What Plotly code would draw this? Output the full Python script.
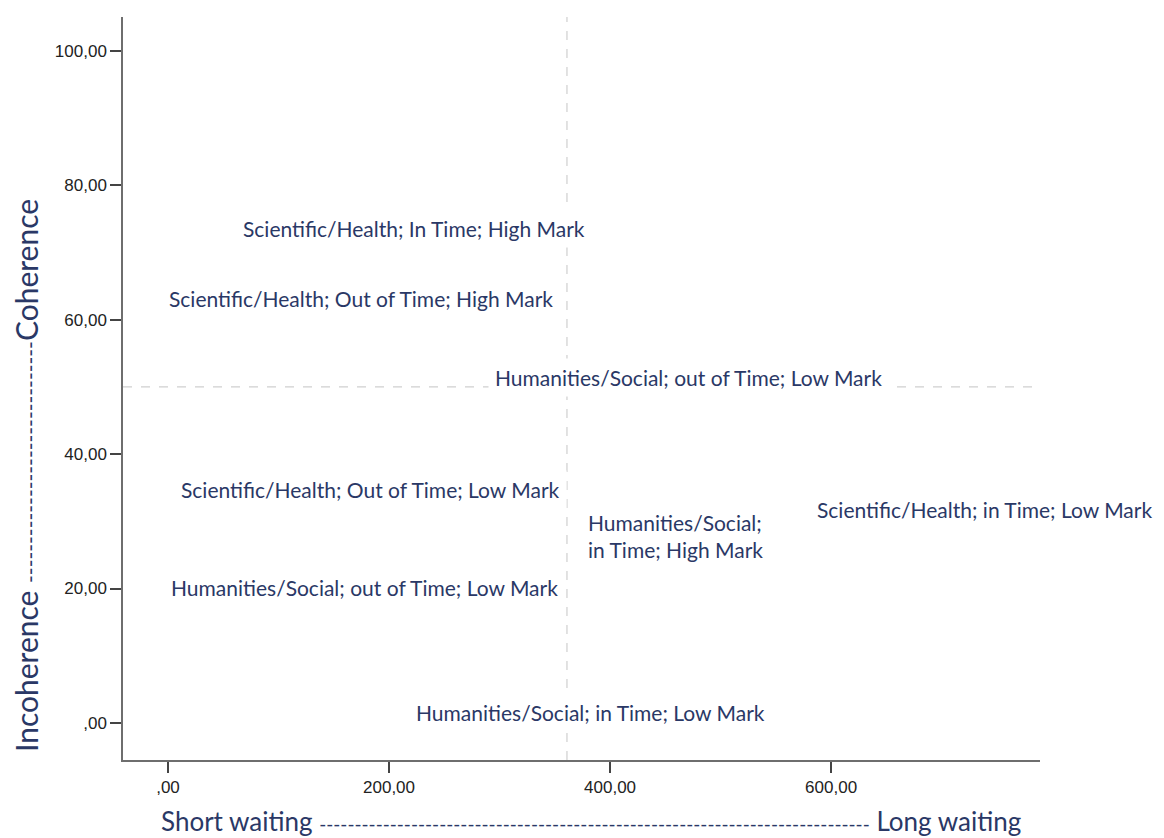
import plotly.graph_objects as go

# ---- data ----
label_text = [
    "Scientific/Health; In Time; High Mark",
    "Scientific/Health; Out of Time; High Mark",
    "Humanities/Social; out of Time; Low Mark",
    "Scientific/Health; Out of Time; Low Mark",
    "Humanities/Social;<br>in Time; High Mark",
    "Scientific/Health; in Time; Low Mark",
    "Humanities/Social; out of Time; Low Mark",
    "Humanities/Social; in Time; Low Mark",
]
label_x = [222.6, 174.7, 470.6, 182.8, 459.0, 739.0, 178.0, 382.0]
label_y = [73.5, 63.2, 51.4, 34.8, 27.8, 31.7, 20.2, 1.5]

x_ticks = [0, 200, 400, 600]
x_ticklabels = [",00", "200,00", "400,00", "600,00"]
y_ticks = [0, 20, 40, 60, 80, 100]
y_ticklabels = [",00", "20,00", "40,00", "60,00", "80,00", "100,00"]

ref_x = 361
ref_y = 50

x_range = [-40.7, 789]
y_range = [-5.5, 105]

x_title = ("Short waiting <span style='font-size:19px'>" + "-" * 78 +
           "</span> Long waiting")
y_title = ("Incoherence <span style='font-size:21px'>" + "-" * 31 +
           "</span>Coherence")

navy = "#2a3866"
gray_axis = "#6e6e6e"
dash_col = "#cfcfcf"

fig = go.Figure()

# invisible scatter to set up axes
fig.add_trace(go.Scatter(x=label_x, y=label_y, mode="markers",
                         marker=dict(size=1, color="rgba(0,0,0,0)"),
                         hoverinfo="skip", showlegend=False))

# reference lines
fig.add_shape(type="line", xref="x", yref="y", x0=ref_x, x1=ref_x,
              y0=y_range[0], y1=y_range[1],
              line=dict(color=dash_col, width=1.2, dash="dash"), layer="below")
fig.add_shape(type="line", xref="x", yref="y", x0=x_range[0], x1=x_range[1],
              y0=ref_y, y1=ref_y,
              line=dict(color=dash_col, width=1.2, dash="dash"), layer="below")

for t, x, y in zip(label_text, label_x, label_y):
    fig.add_annotation(x=x, y=y, xref="x", yref="y", text=t, showarrow=False,
                       align="left", bgcolor="white", borderpad=6,
                       font=dict(family="Lato", size=21, color=navy))

# axis titles (placed as annotations to match the off-centre positions)
fig.add_annotation(x=0.5104, y=-0.0815, xref="paper", yref="paper",
                   text=x_title, showarrow=False,
                   xanchor="center", yanchor="middle",
                   font=dict(family="Lato", size=26, color=navy))
fig.add_annotation(x=-0.1058, y=0.3836, xref="paper", yref="paper",
                   text=y_title, showarrow=False, textangle=-90,
                   xanchor="center", yanchor="middle", borderpad=0,
                   font=dict(family="Lato", size=30, color=navy))

fig.update_layout(
    width=1156, height=830,
    margin=dict(l=115, r=124, t=9, b=78),
    plot_bgcolor="white", paper_bgcolor="white",
    showlegend=False,
    xaxis=dict(range=x_range, tickvals=x_ticks, ticktext=x_ticklabels,
               automargin=False,
               showgrid=False, zeroline=False, showline=True,
               linecolor=gray_axis, linewidth=1.5,
               ticks="outside", ticklen=11, tickwidth=1.5, tickcolor="#444",
               tickfont=dict(family="Liberation Sans", size=17, color="#222")),
    yaxis=dict(range=y_range, tickvals=y_ticks, ticktext=y_ticklabels,
               automargin=False,
               showgrid=False, zeroline=False, showline=True,
               linecolor=gray_axis, linewidth=1.5,
               ticks="outside", ticklen=11, tickwidth=1.5, tickcolor="#444",
               tickfont=dict(family="Liberation Sans", size=17, color="#222")),
)

fig.write_html("out.html")
